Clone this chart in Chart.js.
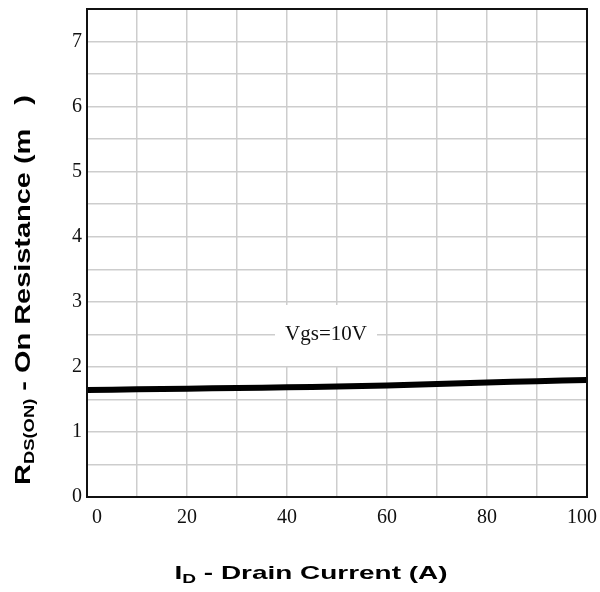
<!DOCTYPE html>
<html>
<head>
<meta charset="utf-8">
<script src="https://cdn.jsdelivr.net/npm/chart.js@4"></script>
<style>
  html, body { margin: 0; padding: 0; background: #fff; }
  #wrap { width: 600px; height: 592px; }
</style>
</head>
<body>
<div id="wrap"><canvas id="rdsChart" width="600" height="592"></canvas></div>
<script>
// values
const currentA = [0, 10, 20, 30, 40, 50, 60, 70, 80, 90, 100];
const rdsOn = [1.645, 1.655, 1.665, 1.675, 1.685, 1.70, 1.715, 1.735, 1.76, 1.78, 1.80];
const xLabels = [0, 20, 40, 60, 80, 100];
const yLabels = [0, 1, 2, 3, 4, 5, 6, 7];
const curveLabel = 'Vgs=10V';

const tickFont = { family: 'Liberation Serif', size: 20 };

// title pieces with subscripts, stretched along the text like the scan
function partsWidth(ctx, parts) {
    let w = 0;
    parts.forEach(p => {
        ctx.font = 'bold ' + p.size + 'px "Liberation Sans", Arial';
        w += ctx.measureText(p.text).width;
    });
    return w;
}
function drawTitle(ctx, parts, len) {
    const k = len / partsWidth(ctx, parts);
    ctx.scale(k, 1);
    let cx = -partsWidth(ctx, parts) / 2;
    parts.forEach(p => {
        ctx.font = 'bold ' + p.size + 'px "Liberation Sans", Arial';
        ctx.fillText(p.text, cx, p.dy || 0);
        cx += ctx.measureText(p.text).width;
    });
}

const decorations = {
    id: 'decorations',
    beforeDatasetsDraw(chart) {
        const { ctx, scales: { x, y } } = chart;
        const cx = x.getPixelForValue(47.8);
        const cy = y.getPixelForValue(2.49);
        ctx.save();
        ctx.fillStyle = '#fff';
        ctx.fillRect(cx - 51, cy - 30, 102, 61);
        ctx.fillStyle = '#111';
        ctx.font = '21px "Liberation Serif"';
        ctx.textAlign = 'center';
        ctx.textBaseline = 'middle';
        ctx.fillText(curveLabel, cx, cy);
        ctx.restore();
    },
    afterDraw(chart) {
        const { ctx, chartArea: a, scales: { x } } = chart;
        ctx.save();
        ctx.strokeStyle = '#111';
        ctx.lineWidth = 2;
        ctx.strokeRect(a.left, a.top, a.right - a.left, a.bottom - a.top);

        // x tick labels (end labels pulled inwards like the original)
        ctx.fillStyle = '#111';
        ctx.font = tickFont.size + 'px "' + tickFont.family + '"';
        ctx.textAlign = 'center';
        ctx.textBaseline = 'middle';
        xLabels.forEach((v, i) => {
            let px = x.getPixelForValue(v);
            if (i === 0) px += 10;
            if (i === xLabels.length - 1) px -= 5;
            ctx.fillText(String(v), px, 518);
        });
        ctx.restore();

        ctx.save();
        ctx.fillStyle = '#000';
        ctx.textAlign = 'left';
        ctx.textBaseline = 'alphabetic';
        ctx.translate(311, 579);
        drawTitle(ctx, [
            { text: 'I', size: 19 },
            { text: 'D', size: 13, dy: 4 },
            { text: ' - Drain Current (A)', size: 19 }
        ], 273);
        ctx.restore();

        ctx.save();
        ctx.fillStyle = '#000';
        ctx.textAlign = 'left';
        ctx.textBaseline = 'alphabetic';
        ctx.translate(30, 290);
        ctx.rotate(-Math.PI / 2);
        drawTitle(ctx, [
            { text: 'R', size: 22 },
            { text: 'DS(ON)', size: 14, dy: 4 },
            { text: ' - On Resistance (m   )', size: 22 }
        ], 390);
        ctx.restore();
    }
};

new Chart(document.getElementById('rdsChart'), {
    type: 'line',
    data: {
        datasets: [{
            data: currentA.map((v, i) => ({ x: v, y: rdsOn[i] })),
            borderColor: '#000',
            borderWidth: 6,
            pointRadius: 0,
            tension: 0.3
        }]
    },
    options: {
        responsive: false,
        animation: false,
        devicePixelRatio: 1,
        layout: { padding: { left: 0, right: 13, top: 9, bottom: 0 } },
        plugins: { legend: { display: false }, tooltip: { enabled: false } },
        scales: {
            x: {
                type: 'linear',
                min: 0,
                max: 100,
                afterFit: s => { s.height = 95; s.paddingLeft = 0; s.paddingRight = 0; },
                afterBuildTicks: s => {
                    s.ticks = [];
                    for (let v = 0; v <= 100; v += 10) s.ticks.push({ value: v });
                },
                ticks: { display: false },
                grid: { color: '#cdcdcd', lineWidth: 1.5, drawTicks: false },
                border: { color: '#111', width: 2 }
            },
            y: {
                type: 'linear',
                min: 0,
                max: 7.5,
                afterFit: s => { s.width = 87; s.paddingTop = 0; s.paddingBottom = 0; },
                afterBuildTicks: s => {
                    s.ticks = [];
                    for (let v = 0; v <= 7.5; v += 0.5) s.ticks.push({ value: v });
                },
                ticks: {
                    autoSkip: false,
                    padding: 5,
                    color: '#111',
                    font: tickFont,
                    callback: v => yLabels.includes(v) ? String(v) : ''
                },
                grid: { color: '#cdcdcd', lineWidth: 1.5, drawTicks: false },
                border: { color: '#111', width: 2 }
            }
        }
    },
    plugins: [decorations]
});
</script>
</body>
</html>
